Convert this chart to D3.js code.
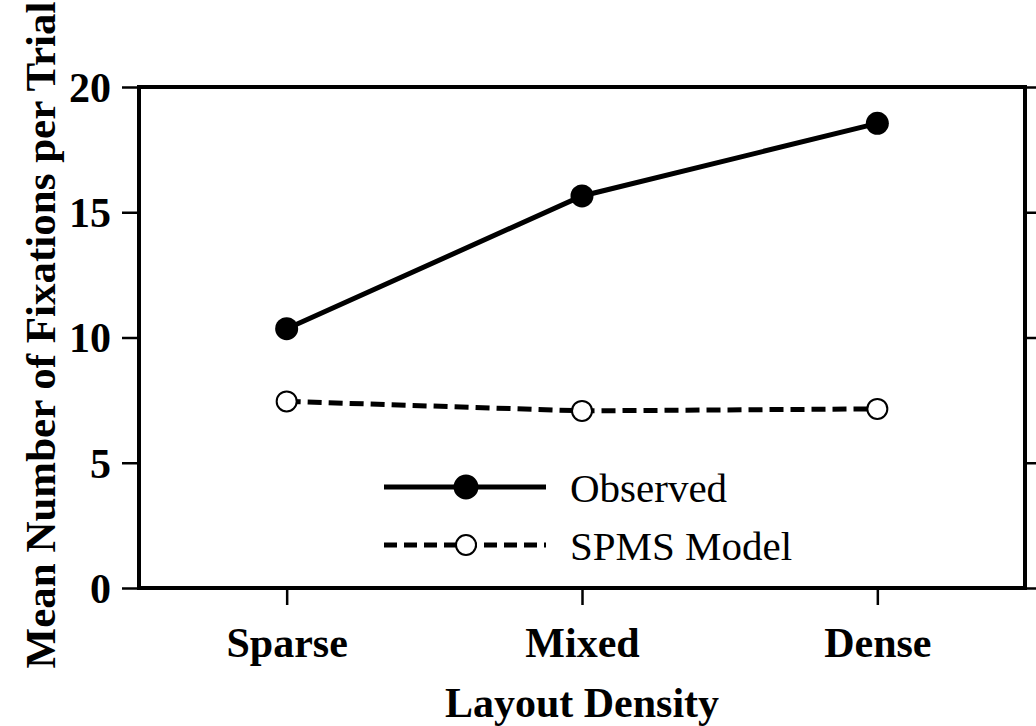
<!DOCTYPE html>
<html>
<head>
<meta charset="utf-8">
<script src="https://cdn.jsdelivr.net/npm/d3@7"></script>
<style>
  body { margin: 0; background: #fff; }
  svg { display: block; font-family: "Liberation Serif", "Times New Roman", serif; }
</style>
</head>
<body>
<div id="chart-container"></div>
<script>
// data
const densities = ["Sparse", "Mixed", "Dense"];
const observed = [10.35, 15.65, 18.55];
const spmsModel = [7.45, 7.07, 7.15];
const yTicks = [0, 5, 10, 15, 20];

document.addEventListener('DOMContentLoaded', function(){
  drawChart();
});

function drawChart(){
  let svgWidth = 1036;
  let svgHeight = 726;
  let left = 139, right = 1025, top = 87, bottom = 588;

  let svg = d3.select('#chart-container')
    .append('svg')
    .attr('width', svgWidth)
    .attr('height', svgHeight);

  let xScale = d3.scalePoint()
    .domain(densities)
    .range([left, right])
    .padding(0.5);

  let yScale = d3.scaleLinear()
    .domain([0, 20])
    .range([bottom, top]);

  //left axis
  let yAxis = d3.axisLeft(yScale)
    .tickValues(yTicks)
    .tickSize(17)
    .tickPadding(11)
    .tickSizeOuter(0);
  let gy = svg.append("g")
    .attr("transform", "translate(" + left + ",0)")
    .call(yAxis);
  gy.selectAll(".tick text")
    .style("font-size", "42px")
    .style("font-weight", "bold")
    .attr("dy", "0.34em");

  //right axis, ticks only
  let gr = svg.append("g")
    .attr("transform", "translate(" + right + ",0)")
    .call(d3.axisRight(yScale).tickValues(yTicks).tickSize(17).tickSizeOuter(0).tickFormat(""));

  //bottom axis
  let xAxis = d3.axisBottom(xScale)
    .tickSize(17)
    .tickPadding(22)
    .tickSizeOuter(0);
  let gx = svg.append("g")
    .attr("transform", "translate(0," + bottom + ")")
    .call(xAxis);
  gx.selectAll(".tick text")
    .style("font-size", "42px")
    .style("font-weight", "bold");

  [gy, gr, gx].forEach(g => {
    g.attr("font-family", null).attr("font-size", null);
    g.select(".domain").remove();
    g.selectAll(".tick line").attr("stroke", "#000").attr("stroke-width", 2.5);
    g.selectAll(".tick text").attr("fill", "#000");
  });

  //frame
  svg.append("rect")
    .attr("x", left)
    .attr("y", top)
    .attr("width", right - left)
    .attr("height", bottom - top)
    .attr("fill", "none")
    .attr("stroke", "#000")
    .attr("stroke-width", 4);

  //axis titles
  svg.append("text")
    .text("Layout Density")
    .attr("x", (left + right) / 2)
    .attr("y", 717)
    .attr("text-anchor", "middle")
    .style("font-size", "42px")
    .style("font-weight", "bold");

  svg.append("text")
    .text("Mean Number of Fixations per Trial")
    .attr("transform", "translate(55,335) rotate(-90)")
    .attr("text-anchor", "middle")
    .style("font-size", "43px")
    .style("font-weight", "bold");

  let line = d3.line()
    .x((d, i) => xScale(densities[i]))
    .y(d => yScale(d));

  //SPMS model
  svg.append("path")
    .datum(spmsModel)
    .attr("d", line)
    .attr("fill", "none")
    .attr("stroke", "#000")
    .attr("stroke-width", 5)
    .attr("stroke-dasharray", "14,7");

  svg.selectAll(".spms")
    .data(spmsModel)
    .enter()
    .append("circle")
    .attr("class", "spms")
    .attr("cx", (d, i) => xScale(densities[i]))
    .attr("cy", d => yScale(d))
    .attr("r", 10)
    .attr("fill", "#fff")
    .attr("stroke", "#000")
    .attr("stroke-width", 2);

  //observed
  svg.append("path")
    .datum(observed)
    .attr("d", line)
    .attr("fill", "none")
    .attr("stroke", "#000")
    .attr("stroke-width", 5);

  svg.selectAll(".obs")
    .data(observed)
    .enter()
    .append("circle")
    .attr("class", "obs")
    .attr("cx", (d, i) => xScale(densities[i]))
    .attr("cy", d => yScale(d))
    .attr("r", 11.5)
    .attr("fill", "#000");

  //legend
  let legend = svg.append("g");
  let items = [
    { label: "Observed", dash: null, fill: "#000", r: 11.5, y: 487 },
    { label: "SPMS Model", dash: "13,7", fill: "#fff", r: 10, y: 545 }
  ];
  items.forEach(it => {
    legend.append("line")
      .attr("x1", 384).attr("x2", 546)
      .attr("y1", it.y).attr("y2", it.y)
      .attr("stroke", "#000")
      .attr("stroke-width", 5)
      .attr("stroke-dasharray", it.dash);
    legend.append("circle")
      .attr("cx", 466).attr("cy", it.y)
      .attr("r", it.r)
      .attr("fill", it.fill)
      .attr("stroke", "#000")
      .attr("stroke-width", 2);
    legend.append("text")
      .text(it.label)
      .attr("x", 570)
      .attr("y", it.y + 15)
      .style("font-size", "41px");
  });
}
</script>
</body>
</html>
